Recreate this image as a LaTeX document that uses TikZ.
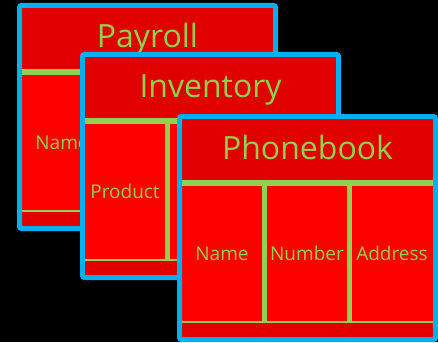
\documentclass[tikz,border=0pt]{standalone}
\usepackage{fontspec}
\setmainfont{Open Sans}
\usepackage{xcolor}
\definecolor{bg}{HTML}{000000}
\definecolor{framecol}{HTML}{00B0F0}
\definecolor{headred}{HTML}{E00000}
\definecolor{bodyred}{HTML}{FF0000}
\definecolor{lime}{HTML}{92D050}
\tikzset{
  cardframe/.style={draw=framecol, line width=5pt, rounded corners=2pt},
  divider/.style={draw=lime, line width=5.5pt},
  thinrule/.style={draw=lime, line width=2.5pt},
  titletext/.style={text=lime, anchor=base, inner sep=0pt, font=\fontsize{32}{36}\selectfont},
  celltext/.style={text=lime, anchor=base, inner sep=0pt, font=\fontsize{19}{22}\selectfont},
}
\begin{document}
\begin{tikzpicture}[x=1pt,y=-1pt]
  \def\w{261}
  \def\h{228}
  \fill[bg] (0,0) rectangle (438,342);
  \useasboundingbox (0,0) rectangle (438,342);

  % three stacked tables, back to front
  \foreach \n/\t/\x/\y/\cols in {payroll/Payroll/17/3/{Name},
      inventory/Inventory/80/52/{Product},
      phonebook/Phonebook/177/114/{Name,Number,Address}} {
    \coordinate (\n-nw) at (\x+2.5,\y+2.5);
    \coordinate (\n-se) at (\x+\w-2.5,\y+\h-2.5);
    \fill[bodyred] (\n-nw) rectangle (\n-se);
    \fill[headred] (\n-nw) rectangle (\x+\w-2.5,\y+69);
    \fill[headred] (\x+2.5,\y+208) rectangle (\n-se);
    \draw[divider] (\x+2.5,\y+69) -- (\x+\w-2.5,\y+69);
    \draw[thinrule] (\x+2.5,\y+208) -- (\x+\w-2.5,\y+208);
    \draw[divider] (\x+87.5,\y+69) -- (\x+87.5,\y+208);
    \draw[divider] (\x+172.5,\y+69) -- (\x+172.5,\y+208);
    \draw[cardframe] (\n-nw) rectangle (\n-se);
    \node[titletext] (\n-title) at (\x+\w/2,\y+45) {\t};
    \foreach \c [count=\i] in \cols
      \node[celltext] (\n-col\i) at (\x+45+85*\i-85,\y+146) {\c};
  }
\end{tikzpicture}
\end{document}
